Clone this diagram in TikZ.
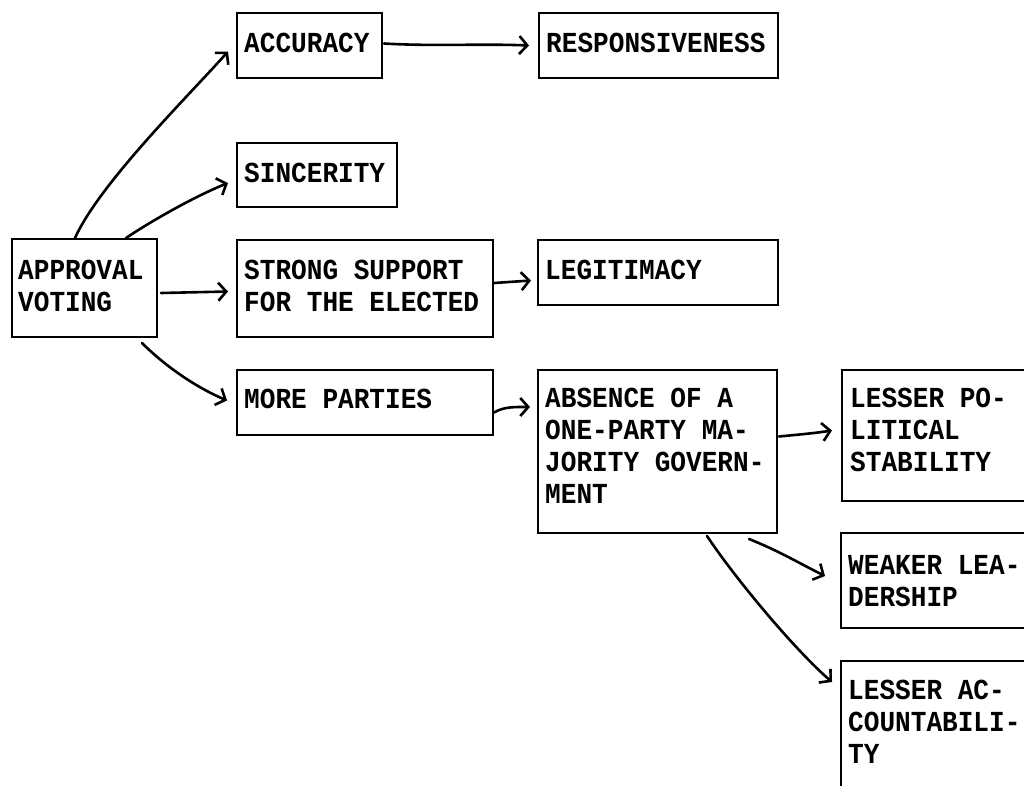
\documentclass[tikz,border=0pt]{standalone}
\usepackage{fontspec}
\setmainfont{Liberation Mono}[FakeStretch=0.9]
\usetikzlibrary{arrows.meta,fit,calc}
\newcommand\lines[1]{\begin{tabular}[t]{@{}l@{}}#1\end{tabular}}
\tikzset{
  box/.style={draw, line width=2pt, inner sep=0pt, rectangle},
  txt/.style={anchor=base west, inner sep=0pt,
    font=\fontsize{29}{32}\selectfont\bfseries},
  arr/.style={line width=2.6pt, line cap=round, line join=round,
    -{Straight Barb[length=8pt,width=18pt]}}
}
\begin{document}
\begin{tikzpicture}[x=1pt,y=-1pt]
\useasboundingbox (0,0) rectangle (1024,785);
\clip (0,0) rectangle (1024,785);
% boxes
\node[box, fit={(237,13)(382,78)}] (acc) {};
\node[box, fit={(539,13)(778,78)}] (resp) {};
\node[box, fit={(237,143)(397,207)}] (sinc) {};
\node[box, fit={(12,239)(157,337)}] (appr) {};
\node[box, fit={(237,240)(493,337)}] (strong) {};
\node[box, fit={(538,240)(778,305)}] (legit) {};
\node[box, fit={(237,370)(493,435)}] (more) {};
\node[box, fit={(538,370)(777,533)}] (abs) {};
\node[box, fit={(842,370)(1090,501)}] (lpol) {};
\node[box, fit={(841,533)(1090,628)}] (weak) {};
\node[box, fit={(841,661)(1090,860)}] (lacc) {};
% texts
\node[txt] (acct) at ([xshift=8pt,yshift=-40pt]acc.north west) {ACCURACY};
\node[txt] (respt) at ([xshift=8pt,yshift=-40pt]resp.north west) {RESPONSIVENESS};
\node[txt] (senct) at ([xshift=8pt,yshift=-40pt]sinc.north west) {SINCERITY};
\node[txt] (apprt) at ([xshift=7pt,yshift=-41pt]appr.north west) {\lines{APPROVAL\\VOTING}};
\node[txt] (strongt) at ([xshift=8pt,yshift=-40pt]strong.north west) {\lines{STRONG SUPPORT\\FOR THE ELECTED}};
\node[txt] (legitt) at ([xshift=8pt,yshift=-40pt]legit.north west) {LEGITIMACY};
\node[txt] (moret) at ([xshift=8pt,yshift=-39pt]more.north west) {MORE PARTIES};
\node[txt] (abst) at ([xshift=8pt,yshift=-38pt]abs.north west) {\lines{ABSENCE OF A\\ONE-PARTY MA-\\JORITY GOVERN-\\MENT}};
\node[txt] (lpolt) at ([xshift=9pt,yshift=-38pt]lpol.north west) {\lines{LESSER PO-\\LITICAL\\STABILITY}};
\node[txt] (weakt) at ([xshift=8pt,yshift=-42pt]weak.north west) {\lines{WEAKER LEA-\\DERSHIP}};
\node[txt] (lacct) at ([xshift=8pt,yshift=-39pt]lacc.north west) {\lines{LESSER AC-\\COUNTABILI-\\TY}};
% connectors
\draw[arr] ([xshift=64pt]appr.north west) .. controls +(25,-55) and +(-40,45) .. ([xshift=-8pt,yshift=-6pt]acc.west);
\draw[arr] ([xshift=115pt]appr.north west) .. controls +(30,-20) and +(-30,12) .. ([xshift=-8pt,yshift=-8pt]sinc.west);
\draw[arr] ([xshift=3pt,yshift=-5pt]appr.east) -- ([xshift=-8pt,yshift=-3pt]strong.west);
\draw[arr] ([xshift=131pt,yshift=-5pt]appr.south west) .. controls +(20,20) and +(-35,-15) .. ([xshift=-9pt,yshift=2pt]more.west);
\draw[arr] ([xshift=1pt,yshift=2pt]acc.east) .. controls +(50,3) and +(-50,-2) .. ([xshift=-9pt]resp.west);
\draw[arr] ([xshift=0pt,yshift=5.5pt]strong.east) -- ([xshift=-6pt,yshift=-8pt]legit.west);
\draw[arr] ([yshift=-10pt]more.east) .. controls +(10,-6) and +(-15,0) .. ([xshift=-7pt,yshift=-38pt]abs.north west);
\draw[arr] ([xshift=1pt,yshift=15pt]abs.east) .. controls +(20,-2) and +(-20,3) .. ([xshift=-9pt,yshift=5pt]lpol.west);
\draw[arr] ([xshift=212pt,yshift=-5pt]abs.south west) .. controls +(30,12) and +(-30,-15) .. ([xshift=-15pt,yshift=-44pt]weak.north west);
\draw[arr] ([xshift=170pt,yshift=-2pt]abs.south west) .. controls +(30,45) and +(-35,-30) .. ([xshift=-8pt,yshift=-22pt]lacc.north west);
\end{tikzpicture}
\end{document}
